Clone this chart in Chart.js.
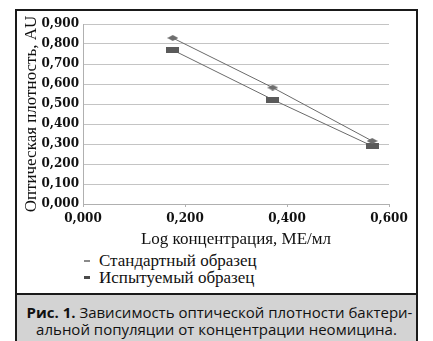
<!DOCTYPE html>
<html lang="ru">
<head>
<meta charset="utf-8">
<script src="https://cdn.jsdelivr.net/npm/chart.js@4"></script>
<style>
  html, body { margin: 0; padding: 0; background: #fff; }
  body { width: 433px; height: 341px; position: relative; overflow: hidden; }
  #frame {
    position: absolute; left: 15px; top: 9px; width: 399px; height: 360px;
    border: 2px solid #1a1a1a; box-sizing: content-box;
  }
  #chart-wrap { position: absolute; left: 0; top: 0; width: 433px; height: 250px; }
  #legend {
    position: absolute; left: 82px; top: 252px;
    font-family: "Liberation Serif", serif; font-size: 17px; color: #111;
  }
  #legend .item { height: 17px; line-height: 17px; display: flex; align-items: center; white-space: nowrap; }
  #legend .sw { display: inline-block; width: 6px; margin: 0 9px 0 2px; }
  #caption {
    position: absolute; left: 17px; top: 293px; width: 399px; height: 60px;
    background: #d3d3d3; border-top: 2px solid #1a1a1a;
    font-family: "Open Sans", sans-serif; font-size: 15px; font-weight: 500; color: #111;
  }
  #caption div { position: absolute; left: 0; width: 399px; text-align: center; white-space: nowrap; }
  #caption b { font-weight: 700; }
</style>
</head>
<body>
<div id="frame"></div>
<div id="chart-wrap"><canvas id="chart" width="433" height="250"></canvas></div>
<div id="legend"></div>
<div id="caption">
  <div style="top:7px; left:3px;"><b>Рис. 1.</b> Зависимость оптической плотности бактери-</div>
  <div style="top:24px;">альной популяции от концентрации неомицина.</div>
</div>
<script>
// log concentration, IU/ml
const logConc = [0.176, 0.372, 0.567];
// optical density, AU
const standardOD = [0.830, 0.582, 0.315];
const testOD = [0.770, 0.522, 0.290];

const seriesNames = ['Стандартный образец', 'Испытуемый образец'];
const xTicks = [0, 0.2, 0.4, 0.6];
const yTicks = [0, 0.1, 0.2, 0.3, 0.4, 0.5, 0.6, 0.7, 0.8, 0.9];

const fmt = (v) => v.toFixed(3).replace('.', ',');

// flattened marker shapes, the way the spreadsheet export squashed them
function makeDiamond(w, h, color) {
  const c = document.createElement('canvas');
  c.width = w; c.height = h;
  const g = c.getContext('2d');
  g.fillStyle = color;
  g.beginPath();
  g.moveTo(0, h / 2); g.lineTo(w / 2, 0); g.lineTo(w, h / 2); g.lineTo(w / 2, h);
  g.closePath(); g.fill();
  return c;
}
function makeBar(w, h, color) {
  const c = document.createElement('canvas');
  c.width = w; c.height = h;
  const g = c.getContext('2d');
  g.fillStyle = color;
  g.fillRect(0, 0, w, h);
  return c;
}

const serif = '"Liberation Serif", serif';
const tickFont = { family: '"DejaVu Serif", serif', size: 12, weight: 'bold' };

const datasets = [
  {
    label: seriesNames[0],
    data: logConc.map((x, i) => ({ x, y: standardOD[i] })),
    borderColor: '#6a6a6a', borderWidth: 1,
    pointStyle: makeDiamond(11, 6, '#6e6e6e'),
    swatch: { color: '#8a8a8a', h: 2 },
  },
  {
    label: seriesNames[1],
    data: logConc.map((x, i) => ({ x, y: testOD[i] })),
    borderColor: '#6a6a6a', borderWidth: 1,
    pointStyle: makeBar(13, 6, '#5a5a5a'),
    swatch: { color: '#4a4a4a', h: 3 },
  },
];

const chart = new Chart(document.getElementById('chart'), {
  type: 'line',
  data: { datasets },
  options: {
    responsive: false,
    animation: false,
    devicePixelRatio: 1,
    layout: { padding: { left: 17, right: 44, top: 24, bottom: 0 } },
    plugins: { legend: { display: false }, tooltip: { enabled: false } },
    elements: { line: { tension: 0, fill: false } },
    scales: {
      x: {
        type: 'linear', min: 0, max: 0.6,
        afterBuildTicks: (s) => { s.ticks = xTicks.map((value) => ({ value })); },
        afterFit: (s) => { s.height = 46; },
        border: { color: '#b0b0b0' },
        grid: { drawOnChartArea: false, drawTicks: true, tickLength: 3, color: '#b0b0b0' },
        ticks: { font: tickFont, color: '#111', padding: 5, callback: (v) => fmt(v) },
        title: {
          display: true, text: 'Log концентрация, МЕ/мл', color: '#111',
          font: { family: serif, size: 17 }, padding: { top: 4, bottom: 0 },
        },
      },
      y: {
        min: 0, max: 0.9,
        afterBuildTicks: (s) => { s.ticks = yTicks.map((value) => ({ value })); },
        afterFit: (s) => { s.width = 66; },
        border: { color: '#b0b0b0' },
        grid: { color: '#c4c4c4', drawTicks: false },
        ticks: { font: tickFont, color: '#111', padding: 4, callback: (v) => fmt(v) },
        title: {
          display: true, text: 'Оптическая плотность, AU', color: '#111',
          font: { family: serif, size: 17 }, padding: { top: 4, bottom: 0 },
        },
      },
    },
  },
});

// legend stacked under the axis title
const legend = document.getElementById('legend');
chart.data.datasets.forEach((ds) => {
  const row = document.createElement('div');
  row.className = 'item';
  const sw = document.createElement('span');
  sw.className = 'sw';
  sw.style.height = ds.swatch.h + 'px';
  sw.style.background = ds.swatch.color;
  row.appendChild(sw);
  row.appendChild(document.createTextNode(ds.label));
  legend.appendChild(row);
});
</script>
</body>
</html>
